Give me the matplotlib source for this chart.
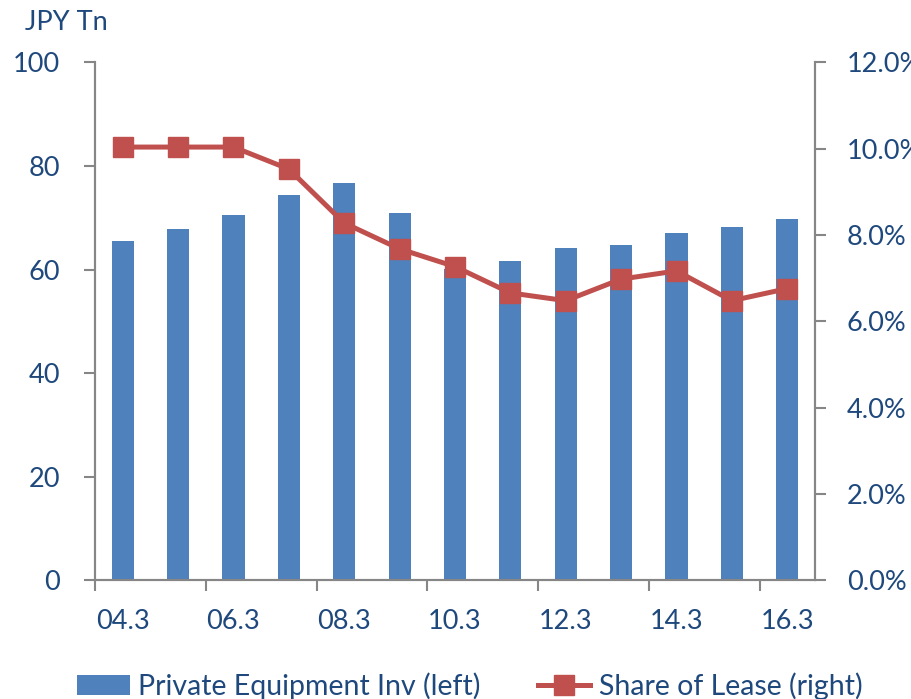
import numpy as np
import matplotlib.pyplot as plt
from matplotlib.ticker import FixedLocator, FuncFormatter

plt.rcParams['font.family'] = ['Lato', 'DejaVu Sans']

periods = ['04.3', '05.3', '06.3', '07.3', '08.3', '09.3', '10.3',
           '11.3', '12.3', '13.3', '14.3', '15.3', '16.3']
equip_inv = [65.6, 67.9, 70.6, 74.5, 76.8, 71.0, 60.2,
             61.7, 64.1, 64.8, 67.1, 68.3, 69.8]
lease_share = [10.04, 10.04, 10.04, 9.53, 8.28, 7.68, 7.27,
               6.66, 6.48, 6.98, 7.17, 6.48, 6.76]

blue = '#4F81BD'
red = '#C0504D'
txt = '#1F497D'
grey = '#868686'

fig = plt.figure(figsize=(9.12, 6.99), dpi=100)
ax = fig.add_axes([0.1042, 0.1698, 0.7894, 0.7408])
ax2 = ax.twinx()

x = np.arange(len(periods))
ax.bar(x, equip_inv, width=0.40, color=blue, zorder=2,
       label='Private Equipment Inv (left)')
ax2.plot(x, lease_share, color=red, lw=3.6, marker='s', ms=14,
         label='Share of Lease (right)')

ax.set_xlim(-0.5, len(periods) - 0.5)
ax.set_ylim(0, 100)
ax2.set_ylim(0, 12)
ax.set_yticks(range(0, 101, 20))
ax2.set_yticks(range(0, 13, 2))
ax2.yaxis.set_major_formatter(FuncFormatter(lambda v, p: f'{v:.1f}%'))

# tick marks at every other category boundary, labels on the category itself
ax.xaxis.set_major_locator(FixedLocator(np.arange(-0.5, len(periods) - 1, 2)))
ax.xaxis.set_minor_locator(FixedLocator(x[::2]))
ax.set_xticklabels([], minor=False)
ax.set_xticklabels(periods[::2], minor=True)
ax.tick_params(axis='x', which='major', length=8, width=1.5, color=grey)
ax.tick_params(axis='x', which='minor', length=0, pad=21,
               labelsize=19.5, labelcolor=txt)
ax.tick_params(axis='y', length=8, width=1.5, color=grey, pad=17,
               labelsize=19.5, labelcolor=txt)
ax2.tick_params(axis='y', length=8, width=1.5, color=grey, pad=15,
                labelsize=19.5, labelcolor=txt)

for a in (ax, ax2):
    a.spines['top'].set_visible(False)
    for s in ('left', 'right', 'bottom'):
        a.spines[s].set_color(grey)
        a.spines[s].set_linewidth(1.5)

fig.text(0.027, 0.968, 'JPY Tn', fontsize=19.5, color=txt, va='center', ha='left')

h1, l1 = ax.get_legend_handles_labels()
h2, l2 = ax2.get_legend_handles_labels()
leg = fig.legend(h1 + h2, l1 + l2, loc='lower center', ncol=2, frameon=False,
                 bbox_to_anchor=(0.515, -0.038), fontsize=20.5, handlelength=1.85,
                 handletextpad=0.3, columnspacing=2.0)
for t in leg.get_texts():
    t.set_color(txt)

fig.savefig('out.png', dpi=100)
